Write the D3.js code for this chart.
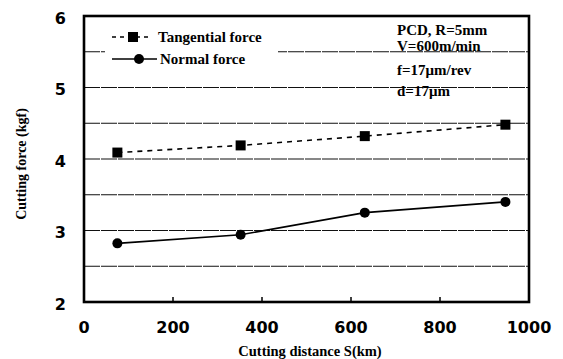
<!DOCTYPE html>
<html>
<head>
<meta charset="utf-8">
<script src="https://cdn.jsdelivr.net/npm/d3@7"></script>
<style>
  body { margin:0; background:#fff; }
  svg { display:block; }
</style>
</head>
<body>
<div id="grafico"></div>
<script>
// valores
const distancias = [75, 352, 631, 947];        // S (km)
const tangencial = [4.09, 4.19, 4.32, 4.48];   // kgf
const normal = [2.82, 2.94, 3.25, 3.40];       // kgf
const ticksX = [0, 200, 400, 600, 800, 1000];
const ticksY = [2, 3, 4, 5, 6];
const linhasGrade = [2.5, 3, 3.5, 4, 4.5, 5, 5.5];
const nomesSeries = ['Tangential force', 'Normal force'];
const notas = ['PCD, R=5mm', 'V=600m/min', 'f=17\u03bcm/rev', 'd=17\u03bcm'];

const largura = 563, altura = 359;
const svg = d3.select('#grafico').append('svg')
  .attr('width', largura).attr('height', altura);

const x = d3.scaleLinear().domain([0, 1000]).range([84, 529]);
const y = d3.scaleLinear().domain([2, 6]).range([302, 16]);

const serif = '"Liberation Serif", "Times New Roman", serif';
const sans = '"DejaVu Sans", sans-serif';

// linhas de grade (quase contínuas, meio falhadas como no scan)
svg.append('g').selectAll('line').data(linhasGrade).join('line')
  .attr('x1', x(0)).attr('x2', x(1000))
  .attr('y1', d => y(d)).attr('y2', d => y(d))
  .attr('stroke', '#111').attr('stroke-width', 1.2)
  .attr('stroke-dasharray', '16,1');

// fundo branco da legenda (tapa a linha de 5.5)
svg.append('rect')
  .attr('x', 105).attr('y', 22).attr('width', 173).attr('height', 50)
  .attr('fill', '#fff');

// ticks pra dentro no eixo x
svg.append('g').selectAll('line').data(ticksX.slice(1, -1)).join('line')
  .attr('x1', d => x(d)).attr('x2', d => x(d))
  .attr('y1', y(2)).attr('y2', y(2) - 5)
  .attr('stroke', '#000').attr('stroke-width', 1.5);

// moldura
svg.append('rect')
  .attr('x', x(0)).attr('y', y(6))
  .attr('width', x(1000) - x(0)).attr('height', y(2) - y(6))
  .attr('fill', 'none').attr('stroke', '#000').attr('stroke-width', 2.6);

// rótulos dos ticks
svg.append('g').selectAll('text').data(ticksX).join('text')
  .attr('x', d => x(d)).attr('y', 327).attr('dy', '0.36em')
  .attr('text-anchor', 'middle')
  .style('font-family', sans).style('font-weight', 'bold').style('font-size', '16px')
  .text(d => d);

svg.append('g').selectAll('text').data(ticksY).join('text')
  .attr('x', 66).attr('y', d => y(d) + 2).attr('dy', '0.36em')
  .attr('text-anchor', 'end')
  .style('font-family', sans).style('font-weight', 'bold').style('font-size', '16px')
  .text(d => d);

// títulos dos eixos
svg.append('text')
  .attr('x', 310).attr('y', 351).attr('dy', '0.35em')
  .attr('text-anchor', 'middle')
  .style('font-family', serif).style('font-weight', 'bold').style('font-size', '14.5px')
  .text('Cutting distance S(km)');

svg.append('text')
  .attr('transform', 'translate(21,164) rotate(-90)')
  .attr('dy', '0.35em')
  .attr('text-anchor', 'middle')
  .style('font-family', serif).style('font-weight', 'bold').style('font-size', '14px')
  .text('Cutting force (kgf)');

// séries
const linha = d3.line().x((d, i) => x(distancias[i])).y(d => y(d));

svg.append('path').datum(tangencial)
  .attr('d', linha).attr('fill', 'none')
  .attr('stroke', '#000').attr('stroke-width', 1.6)
  .attr('stroke-dasharray', '5,5');

svg.append('path').datum(normal)
  .attr('d', linha).attr('fill', 'none')
  .attr('stroke', '#000').attr('stroke-width', 1.6);

svg.append('g').selectAll('rect').data(tangencial).join('rect')
  .attr('x', (d, i) => x(distancias[i]) - 5).attr('y', d => y(d) - 5)
  .attr('width', 10).attr('height', 10).attr('fill', '#000');

svg.append('g').selectAll('circle').data(normal).join('circle')
  .attr('cx', (d, i) => x(distancias[i])).attr('cy', d => y(d))
  .attr('r', 5).attr('fill', '#000');

// legenda
const legY = [37, 59];
svg.append('line')
  .attr('x1', 112).attr('x2', 150).attr('y1', legY[0]).attr('y2', legY[0])
  .attr('stroke', '#000').attr('stroke-width', 1.6).attr('stroke-dasharray', '4,4');
svg.append('rect')
  .attr('x', 128).attr('y', legY[0] - 5).attr('width', 10).attr('height', 10)
  .attr('fill', '#000');
svg.append('line')
  .attr('x1', 112).attr('x2', 157).attr('y1', legY[1]).attr('y2', legY[1])
  .attr('stroke', '#000').attr('stroke-width', 1.6);
svg.append('circle')
  .attr('cx', 139).attr('cy', legY[1]).attr('r', 5).attr('fill', '#000');

svg.append('g').selectAll('text').data(nomesSeries).join('text')
  .attr('x', (d, i) => i == 0 ? 158 : 160).attr('y', (d, i) => legY[i]).attr('dy', '0.32em')
  .style('font-family', serif).style('font-weight', 'bold').style('font-size', '15px')
  .text(d => d);

// condições de corte
const notasY = [30, 46, 70, 91];
svg.append('g').selectAll('text').data(notas).join('text')
  .attr('x', 397).attr('y', (d, i) => notasY[i]).attr('dy', '0.35em')
  .style('font-family', serif).style('font-weight', 'bold').style('font-size', '15px')
  .text(d => d);
</script>
</body>
</html>
